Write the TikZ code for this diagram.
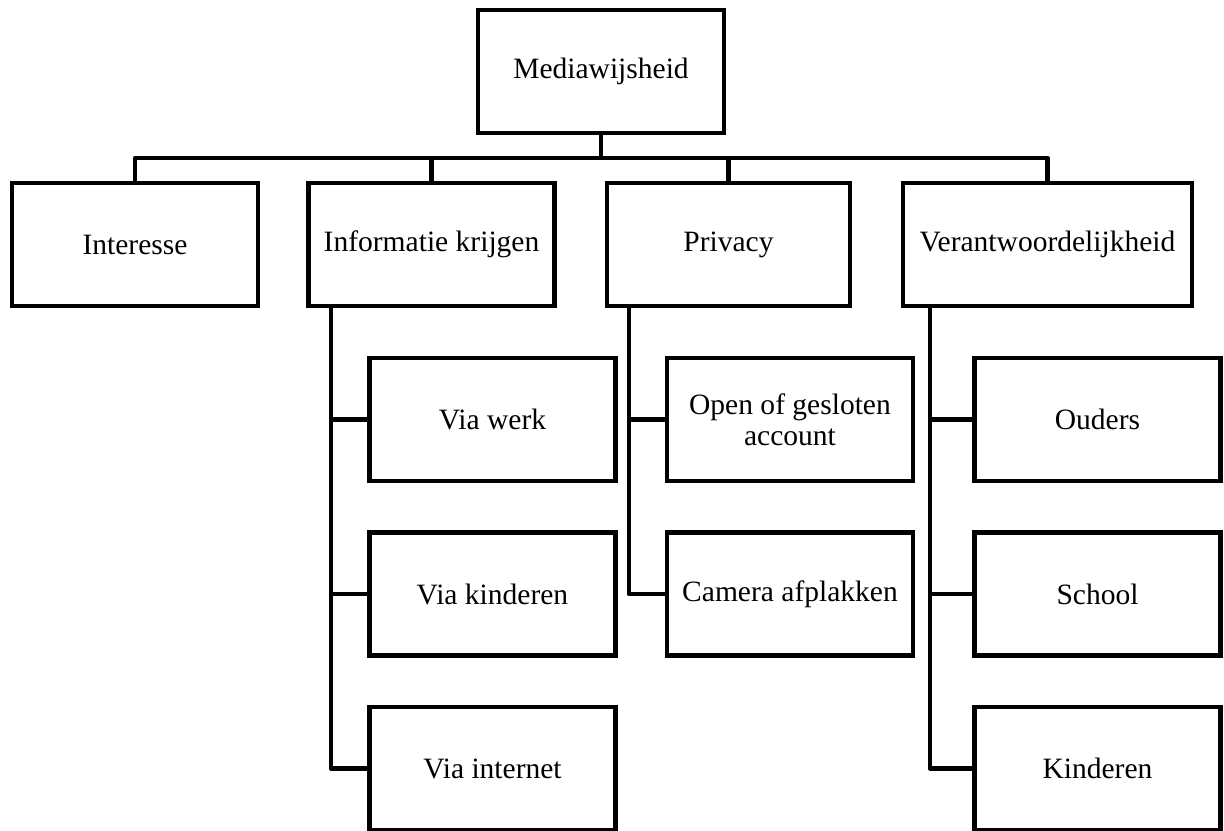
\documentclass[tikz,border=0pt]{standalone}
\usepackage{fontspec}
\setmainfont{Liberation Serif}
\usetikzlibrary{positioning}

\tikzset{
    box/.style={draw, rectangle, line width=3.2pt, minimum width=6.15cm, minimum height=3.07cm,
        inner sep=2pt, align=center, font=\fontsize{21}{22}\selectfont},
    link/.style={line width=3.2pt, line join=round},
}

\begin{document}
\begin{tikzpicture}[node distance=4.3625cm,on grid]
    \useasboundingbox (0,0) rectangle (30.6,-20.75);
    \node[box] (med) at (15.025,-1.7875) {Mediawijsheid};
    \node[box] (int) at (3.375,-6.1125) {Interesse};
    \node[box] (info) at (10.7875,-6.1125) {Informatie krijgen};
    \node[box,minimum width=6.075cm] (priv) at (18.2125,-6.1125) {Privacy};
    \node[box,minimum width=7.225cm] (ver) at (26.1875,-6.1125) {Verantwoordelijkheid};
    % informatie krijgen
    \node[box] (werk) at (12.3125,-10.4875) {Via werk};
    \node[box] (kind) [below=of werk] {Via kinderen};
    \node[box] (internet) [below=of kind] {Via internet};
    % privacy
    \node[box] (open) at (19.75,-10.4875) {Open of gesloten\\account};
    \node[box] (camera) [below=of open] {Camera afplakken};
    % verantwoordelijkheid
    \node[box] (ouders) at (27.4375,-10.4875) {Ouders};
    \node[box] (school) [below=of ouders] {School};
    \node[box] (kinderen) [below=of school] {Kinderen};

    \coordinate (bus) at (15.025,-3.95);
    \draw[link] (med.south) -- (bus);
    \foreach \n in {int,info,priv,ver}
        \draw[link] (\n.north) |- (bus);
    \foreach \c in {werk,kind,internet}
        \draw[link] ([xshift=0.6125cm]info.south west) |- (\c.west);
    \foreach \c in {open,camera}
        \draw[link] ([xshift=0.6cm]priv.south west) |- (\c.west);
    \foreach \c in {ouders,school,kinderen}
        \draw[link] ([xshift=0.725cm]ver.south west) |- (\c.west);
\end{tikzpicture}
\end{document}
